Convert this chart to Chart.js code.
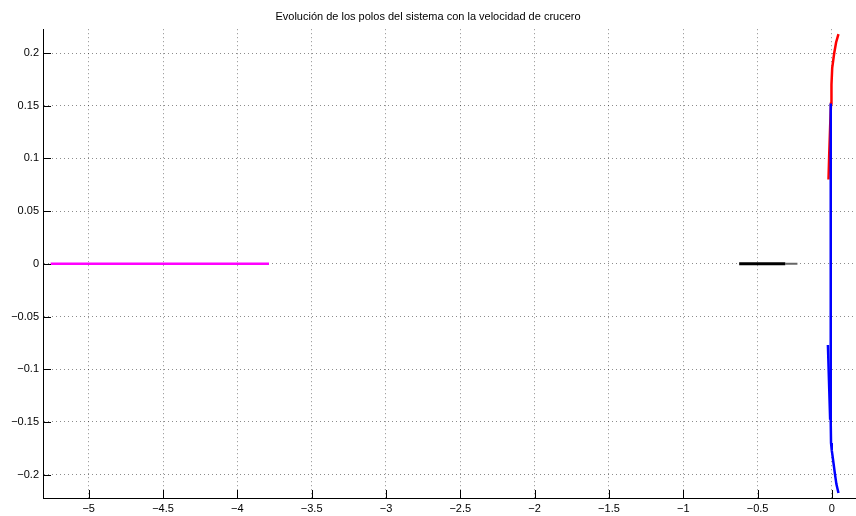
<!DOCTYPE html>
<html lang="es">
<head>
<meta charset="utf-8">
<title>Evolución de los polos</title>
<script src="https://cdn.jsdelivr.net/npm/chart.js@4.4.0/dist/chart.umd.min.js"></script>
<style>
  html, body { margin: 0; padding: 0; background: #fff; }
  #contenedor { width: 856px; height: 516px; }
</style>
</head>
<body>
<div id="contenedor"><canvas id="grafico" width="856" height="516"></canvas></div>
<script>
const TITULO = "Evolución de los polos del sistema con la velocidad de crucero";

// Marcas de los ejes
const ticksX = [-5, -4.5, -4, -3.5, -3, -2.5, -2, -1.5, -1, -0.5, 0];
const ticksY = [-0.2, -0.15, -0.1, -0.05, 0, 0.05, 0.1, 0.15, 0.2];

const polosMagenta = [[-5.256, 0], [-3.787, 0]];
const polosNegro = [[-0.624, 0], [-0.314, 0]];
const polosGris = [[-0.314, 0], [-0.232, 0]];
const polosRojo = [
  [-0.023, 0.080], [-0.018, 0.105], [-0.012, 0.130], [-0.006, 0.152],
  [-0.003, 0.170], [0.002, 0.186], [0.0155, 0.200], [0.028, 0.210], [0.044, 0.218]
];
const polosAzul = [
  [-0.008, 0.152], [-0.008, 0.0], [-0.008, -0.150], [-0.006, -0.170],
  [-0.001, -0.177], [0.004, -0.182], [0.011, -0.1895], [0.020, -0.199], [0.030, -0.209], [0.044, -0.2174]
];
const polosAzulRama = [[-0.027, -0.077], [-0.020, -0.110], [-0.012, -0.148]];

const aPuntos = lista => lista.map(([x, y]) => ({ x, y }));
const formato = v => (v === 0 ? '0' : String(v).replace('-', '\u2212'));
const FUENTE = { family: "'Liberation Sans', Arial, sans-serif", size: 11 };

function serie(lista, color, ancho, orden) {
  return {
    data: aPuntos(lista),
    showLine: true,
    borderColor: color,
    backgroundColor: color,
    borderWidth: ancho,
    pointRadius: 0,
    tension: 0,
    order: orden
  };
}

// marcas hacia dentro, como en matlab
const marcasInternas = {
  id: 'marcasInternas',
  afterDatasetsDraw(chart) {
    const { ctx, chartArea, scales } = chart;
    ctx.save();
    ctx.strokeStyle = '#000';
    ctx.lineWidth = 1;
    ctx.beginPath();
    ticksX.forEach(v => {
      const px = Math.round(scales.x.getPixelForValue(v)) + 0.5;
      ctx.moveTo(px, chartArea.bottom);
      ctx.lineTo(px, chartArea.bottom - 8);
    });
    ticksY.forEach(v => {
      const py = Math.round(scales.y.getPixelForValue(v)) + 0.5;
      ctx.moveTo(chartArea.left, py);
      ctx.lineTo(chartArea.left + 8, py);
    });
    ctx.stroke();
    ctx.restore();
  }
};

const rejilla = { color: 'rgba(0,0,0,0.45)', lineWidth: 1, drawTicks: false };
const borde = { display: true, color: '#000', width: 1, dash: [1, 3] };

new Chart(document.getElementById('grafico'), {
  type: 'scatter',
  data: {
    datasets: [
      serie(polosMagenta, '#ff00ff', 2.5, 5),
      serie(polosGris, '#666666', 2, 4),
      serie(polosNegro, '#000000', 3, 3),
      serie(polosRojo, '#ff0000', 2.5, 2),
      serie(polosAzulRama, '#0000ff', 2.5, 1),
      serie(polosAzul, '#0000ff', 2.5, 0)
    ]
  },
  options: {
    responsive: false,
    animation: false,
    layout: { padding: 0 },
    plugins: {
      legend: { display: false },
      tooltip: { enabled: false },
      title: {
        display: true,
        text: TITULO,
        color: '#000',
        font: { ...FUENTE, weight: 'normal' },
        padding: { top: 10, bottom: 6 }
      }
    },
    scales: {
      x: {
        type: 'linear',
        min: -5.3074,
        max: 0.162,
        afterBuildTicks: s => { s.ticks = ticksX.map(value => ({ value })); },
        afterFit: s => { s.height = 18; },
        grid: rejilla,
        border: borde,
        ticks: { padding: 4, color: '#000', font: FUENTE, maxRotation: 0, autoSkip: false, callback: formato }
      },
      y: {
        type: 'linear',
        min: -0.2222,
        max: 0.2226,
        afterBuildTicks: s => { s.ticks = ticksY.map(value => ({ value })); },
        afterFit: s => { s.width = 43; },
        grid: rejilla,
        border: borde,
        ticks: { padding: 4, color: '#000', font: FUENTE, autoSkip: false, callback: formato }
      }
    }
  },
  plugins: [marcasInternas]
});
</script>
</body>
</html>
